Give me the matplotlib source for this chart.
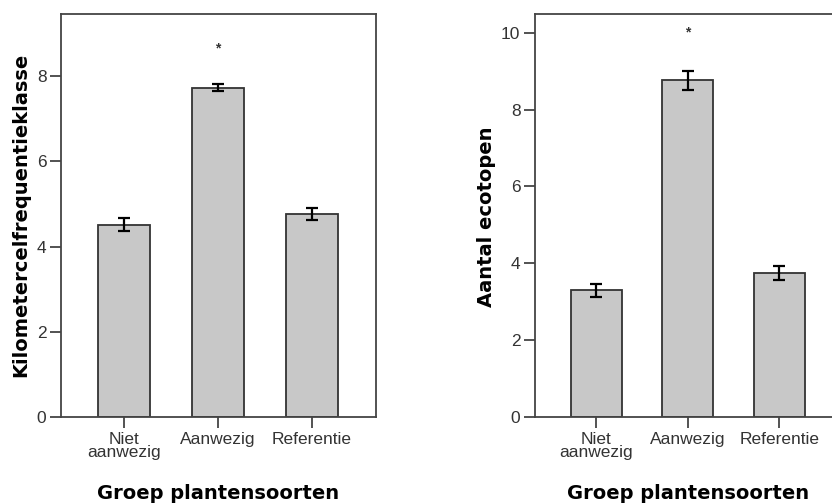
import matplotlib
matplotlib.use("Agg")
import matplotlib.pyplot as plt

# Data
groups = ["Niet\naanwezig", "Aanwezig", "Referentie"]

km_means = [4.51, 7.72, 4.77]
km_lower = [4.36, 7.66, 4.62]
km_upper = [4.66, 7.82, 4.91]

eco_means = [3.31, 8.76, 3.76]
eco_lower = [3.12, 8.52, 3.57]
eco_upper = [3.47, 9.01, 3.94]

km_star = 8.66
eco_star = 10.0

bar_fill = "#c8c8c8"
dark = "#333333"


def bar_panel(ax, means, lower, upper, star_y, ylim, yticks):
    x = list(range(len(means)))
    err = [[m - lo for m, lo in zip(means, lower)],
           [hi - m for m, hi in zip(means, upper)]]
    ax.bar(x, means, width=0.56, color=bar_fill, edgecolor=dark,
           linewidth=1.3, zorder=2)
    ax.errorbar(x, means, yerr=err, fmt="none", ecolor="black",
                elinewidth=1.6, capsize=4, capthick=1.6, zorder=3)
    ax.text(1, star_y, "*", ha="center", va="center", fontsize=10,
            fontweight="bold", color=dark, family="Liberation Sans")
    ax.set_xlim(-0.67, 2.68)
    ax.set_ylim(*ylim)
    ax.set_yticks(yticks)
    ax.set_xticks(x)
    ax.set_xticklabels(groups, linespacing=0.85)
    for sp in ax.spines.values():
        sp.set_color("#444444")
        sp.set_linewidth(1.3)
    ax.tick_params(axis="both", direction="out", length=8, width=1.3,
                   color="#444444", labelcolor=dark, labelsize=12.5,
                   pad=2.5)
    ax.tick_params(axis="y", right=False)
    ax.tick_params(axis="x", top=False)
    for lbl in ax.get_xticklabels() + ax.get_yticklabels():
        lbl.set_family("Liberation Sans")


fig = plt.figure(figsize=(8.32, 5.03), dpi=100)
W, H = 832, 503

ax1 = fig.add_axes([61 / W, (H - 417) / H, 315 / W, 403 / H])
bar_panel(ax1, km_means, km_lower, km_upper, km_star, (0, 9.46),
          [0, 2, 4, 6, 8])

ax2 = fig.add_axes([535 / W, (H - 417) / H, 306.5 / W, 403 / H])
bar_panel(ax2, eco_means, eco_lower, eco_upper, eco_star, (0, 10.49),
          [0, 2, 4, 6, 8, 10])

label_kw = dict(fontsize=14, fontweight="bold", family="DejaVu Sans",
                color="black")
fig.text(21 / W, 1 - 215 / H, "Kilometercelfrequentieklasse",
         rotation=90, ha="center", va="center", **label_kw)
fig.text(486 / W, 1 - 217 / H, "Aantal ecotopen",
         rotation=90, ha="center", va="center", **label_kw)
fig.text(218 / W, 1 - 499 / H, "Groep plantensoorten",
         ha="center", va="baseline", **label_kw)
fig.text(688 / W, 1 - 499 / H, "Groep plantensoorten",
         ha="center", va="baseline", **label_kw)

fig.savefig("out.png", dpi=100)
